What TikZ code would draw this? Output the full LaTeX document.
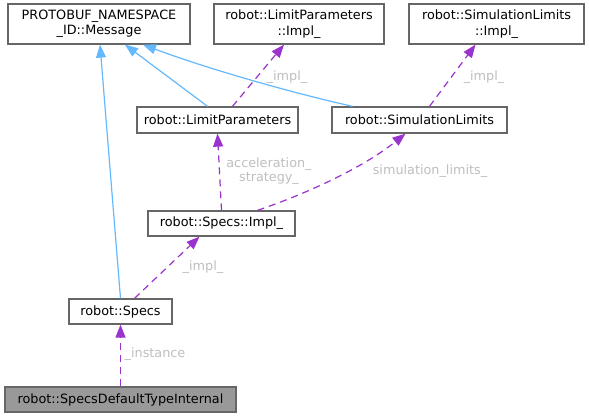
\documentclass[tikz,border=0pt]{standalone}
\usepackage{fontspec}
\setmainfont{DejaVu Sans}
\usepackage{xcolor}
\definecolor{dxborder}{RGB}{102,102,102}
\definecolor{dxfocal}{RGB}{153,153,153}
\definecolor{dxblue}{RGB}{99,184,255}
\definecolor{dxpurple}{RGB}{154,50,205}
\definecolor{dxlabel}{RGB}{190,190,190}
\usetikzlibrary{arrows.meta,positioning}

\begin{document}
\begin{tikzpicture}[x=1pt,y=-1pt,
    cls/.style={draw=dxborder,fill=white,line width=1.3pt,inner sep=0pt,
        align=center,font=\fontsize{12.8}{15.5}\selectfont},
    focal/.style={cls,fill=dxfocal},
    inh/.style={draw=dxblue,line width=1.2pt,
        -{Triangle[length=13pt,width=10pt,fill=dxblue]}},
    usage/.style={draw=dxpurple,line width=1.2pt,dash pattern=on 7pt off 5pt,
        -{Triangle[length=13pt,width=10pt,fill=dxpurple]}},
    lbl/.style={text=dxlabel,align=center,inner sep=0pt,
        font=\fontsize{12.8}{14.5}\selectfont}]
  \useasboundingbox (0,0) rectangle (589,417);
  %% Classes
  \node[cls,minimum width=182pt,minimum height=40pt] (msg) at (99,24)
        {PROTOBUF\_NAMESPACE\\\_ID::Message};
  \node[cls,minimum width=170pt,minimum height=40pt] (lpimpl) at (299,24)
        {robot::LimitParameters\\::Impl\_};
  \node[cls,minimum width=175pt,minimum height=40pt] (slimpl) at (496.5,24)
        {robot::SimulationLimits\\::Impl\_};
  \node[cls,minimum width=161pt,minimum height=26pt] (lp) at (217.5,120)
        {robot::LimitParameters};
  \node[cls,minimum width=175pt,minimum height=26pt] (sl) at (419.5,120)
        {robot::SimulationLimits};
  \node[cls,minimum width=147pt,minimum height=25pt] (specsimpl) at (221.5,223.5)
        {robot::Specs::Impl\_};
  \node[cls,minimum width=103pt,minimum height=25pt] (specs) at (120.5,311.5)
        {robot::Specs};
  \node[focal,minimum width=231pt,minimum height=25pt] (sdti) at (120.5,399.5)
        {robot::SpecsDefaultTypeInternal};
  %% Inheritance
  \draw[inh] (specs.north) -- ([xshift=1pt]msg.south);
  \draw[inh] ([xshift=-10pt]lp.north) -- ([xshift=26pt]msg.south);
  \draw[inh] ([xshift=-67pt]sl.north) .. controls (280,90) and (200,66) .. ([xshift=44pt]msg.south);
  %% Usage
  \draw[usage] ([xshift=15pt]lp.north) -- ([xshift=-15pt]lpimpl.south);
  \draw[usage] ([xshift=10pt]sl.north) -- ([xshift=-21pt]slimpl.south);
  \draw[usage] (specsimpl.north) -- (lp.south);
  \draw[usage] ([xshift=36pt]specsimpl.north) .. controls (300,196) and (360,170) .. ([xshift=-14pt]sl.south);
  \draw[usage] ([xshift=14pt]specs.north) -- ([xshift=-22pt]specsimpl.south);
  \draw[usage] (sdti.north) -- (specs.south);
  %% Labels
  \node[lbl] (l1) at (287,77) {\_impl\_};
  \node[lbl] (l2) at (484,77) {\_impl\_};
  \node[lbl] (l3) at (269,171) {acceleration\_\\strategy\_};
  \node[lbl] (l4) at (430,171) {simulation\_limits\_};
  \node[lbl] (l5) at (203,267) {\_impl\_};
  \node[lbl] (l6) at (155,354) {\_instance};
\end{tikzpicture}
\end{document}
